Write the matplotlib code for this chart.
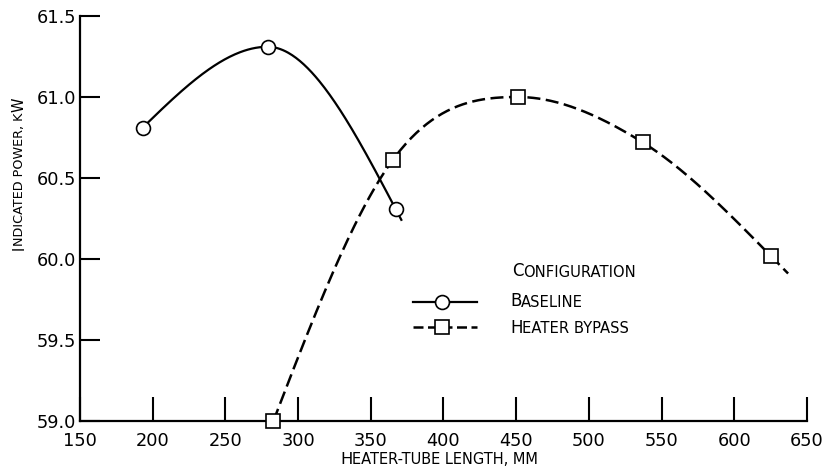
import matplotlib
matplotlib.use("Agg")
import matplotlib.pyplot as plt
import numpy as np
from matplotlib.lines import Line2D

# values
baseline_x = [193, 279, 367]
baseline_y = [60.81, 61.31, 60.31]
bypass_x = [283, 365, 451, 537, 625]
bypass_y = [59.00, 60.61, 61.00, 60.72, 60.02]
# where the faired curves stop past the last point
baseline_end = 371
bypass_end = 637

x_ticks = [150, 200, 250, 300, 350, 400, 450, 500, 550, 600, 650]
y_ticks = [59.0, 59.5, 60.0, 60.5, 61.0, 61.5]

plt.rcParams['font.family'] = ['DejaVu Sans']


def faired(xk, yk, xs):
    """piecewise cubic hermite: three-point slopes inside (flat at a peak),
    zero curvature at the ends"""
    xk = np.asarray(xk, float)
    yk = np.asarray(yk, float)
    h = np.diff(xk)
    delta = np.diff(yk) / h
    n = len(xk)
    m = np.zeros(n)
    for k in range(1, n - 1):
        if delta[k - 1] * delta[k] <= 0:
            m[k] = 0.0
        else:
            m[k] = (h[k] * delta[k - 1] + h[k - 1] * delta[k]) / (h[k - 1] + h[k])
    m[0] = (3 * delta[0] - m[1]) / 2
    m[-1] = (3 * delta[-1] - m[-2]) / 2
    idx = np.clip(np.searchsorted(xk, xs) - 1, 0, n - 2)
    t = (xs - xk[idx]) / h[idx]
    h00 = 2 * t ** 3 - 3 * t ** 2 + 1
    h10 = t ** 3 - 2 * t ** 2 + t
    h01 = -2 * t ** 3 + 3 * t ** 2
    h11 = t ** 3 - t ** 2
    return (h00 * yk[idx] + h10 * h[idx] * m[idx]
            + h01 * yk[idx + 1] + h11 * h[idx] * m[idx + 1])


def draw_label(fig, x, y, s, big, small, rotation=0, family=None):
    """fake small caps: capitals big, lower case as smaller capitals"""
    runs = []
    for ch in s:
        size = big if ch.isupper() else small
        if ch in " ,-" and runs:
            size = runs[-1][1]
        if runs and runs[-1][1] == size:
            runs[-1][0] += ch.upper()
        else:
            runs.append([ch.upper(), size])
    kw = dict(color='black')
    if family:
        kw['family'] = family
    if rotation == 0:
        prev = fig.text(x, y, runs[0][0], fontsize=runs[0][1], ha='left', va='bottom', **kw)
    else:
        prev = fig.text(x, y, runs[0][0], fontsize=runs[0][1], rotation=90,
                        ha='right', va='bottom', **kw)
    psize = runs[0][1]
    for txt, size in runs[1:]:
        off = 0.22 * (psize - size)
        if rotation == 0:
            prev = ax.annotate(txt, xy=(1, 0), xycoords=prev, xytext=(0, off),
                               textcoords='offset points', fontsize=size,
                               ha='left', va='bottom', annotation_clip=False, **kw)
        else:
            prev = ax.annotate(txt, xy=(1, 1), xycoords=prev, xytext=(-off, 0),
                               textcoords='offset points', fontsize=size, rotation=90,
                               ha='right', va='bottom', annotation_clip=False, **kw)
        psize = size


fig = plt.figure(figsize=(8.36, 4.76), dpi=100)
ax = fig.add_axes([0.0957, 0.1155, 0.8696, 0.8509])

bx = np.linspace(baseline_x[0], baseline_end, 200)
ax.plot(bx, faired(baseline_x, baseline_y, bx), color='black', lw=1.6, clip_on=False)
ax.plot(baseline_x, baseline_y, 'o', ms=10, mfc='white', mec='black', mew=1.2,
        clip_on=False, zorder=5)

hx = np.linspace(bypass_x[0], bypass_end, 300)
ax.plot(hx, faired(bypass_x, bypass_y, hx), color='black', lw=1.8, dashes=(5.2, 2.2),
        clip_on=False)
ax.plot(bypass_x, bypass_y, 's', ms=9.5, mfc='white', mec='black', mew=1.2,
        clip_on=False, zorder=5)

ax.set_xlim(150, 650)
ax.set_ylim(59.0, 61.5)
ax.set_xticks(x_ticks)
ax.set_yticks(y_ticks)
ax.set_yticklabels([f"{v:.1f}" for v in y_ticks])
ax.spines['top'].set_visible(False)
ax.spines['right'].set_visible(False)
for sp in ['left', 'bottom']:
    ax.spines[sp].set_linewidth(1.6)
ax.tick_params(axis='x', direction='in', length=17, width=1.5, pad=8, labelsize=12.8)
ax.tick_params(axis='y', direction='in', length=14.5, width=1.5, pad=3, labelsize=12.8)

# axis titles in small caps, placed like the original
draw_label(fig, 0.4067, 0.018, "Heater-tube length, mm", 11.8, 10.5)
draw_label(fig, 0.0317, 0.475, "Indicated power, kW", 10.5, 9.2, rotation=90)

# legend drawn by hand
draw_label(fig, 0.6124, 0.411, "Configuration", 12, 10.6)
draw_label(fig, 0.610, 0.348, "Baseline", 12, 10.6)
draw_label(fig, 0.610, 0.293, "Heater bypass", 12, 10.6)
fig.add_artist(Line2D([0.494, 0.571], [0.3655, 0.3655], color='black', lw=1.6))
fig.add_artist(Line2D([0.529], [0.3655], marker='o', ms=10, mfc='white', mec='black', mew=1.2))
fig.add_artist(Line2D([0.494, 0.571], [0.313, 0.313], color='black', lw=1.8, dashes=(4, 1.8)))
fig.add_artist(Line2D([0.529], [0.313], marker='s', ms=9.5, mfc='white', mec='black', mew=1.2))

fig.savefig("out.png", dpi=100)
